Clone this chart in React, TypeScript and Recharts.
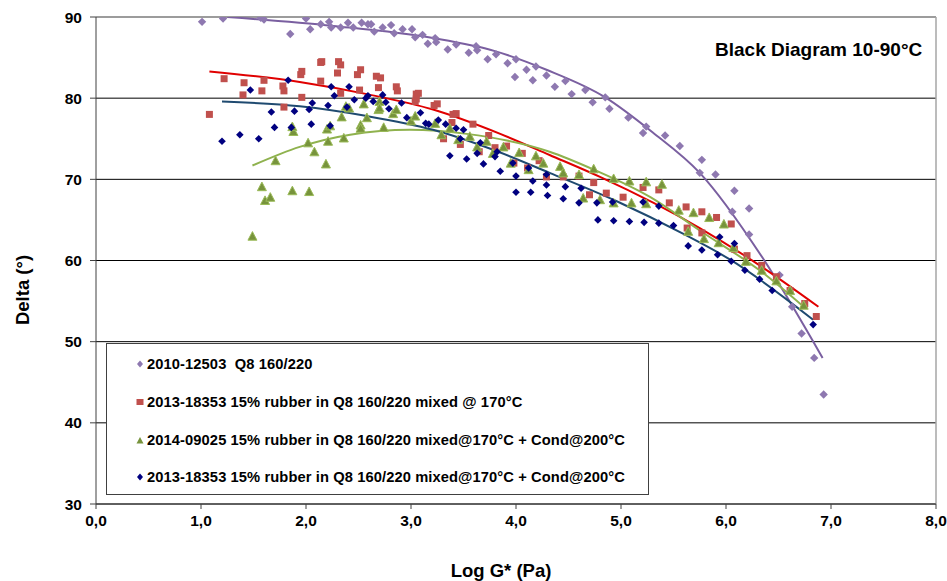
import React from 'react';
import { ComposedChart, Scatter, Line, XAxis, YAxis, CartesianGrid, ReferenceLine } from 'recharts';

type P = [number, number];

const xTicks = [0, 1, 2, 3, 4, 5, 6, 7, 8];
const yTicks = [30, 40, 50, 60, 70, 80, 90];

const chartTitle = 'Black Diagram 10-90°C';
const xTitle = 'Log G* (Pa)';
const yTitle = 'Delta (°)';

const seriesNames = [
  '2010-12503  Q8 160/220',
  '2013-18353 15% rubber in Q8 160/220 mixed @ 170°C',
  '2014-09025 15% rubber in Q8 160/220 mixed@170°C + Cond@200°C',
  '2013-18353 15% rubber in Q8 160/220 mixed@170°C + Cond@200°C',
];

const q8Points: P[] = [
  [1.01, 89.4], [1.21, 89.8], [1.57, 89.9], [1.6, 89.7], [1.85, 87.9], [2.0, 89.8], [2.04, 88.5],
  [2.14, 89.1], [2.22, 89.4], [2.24, 88.7], [2.33, 88.7], [2.4, 89.3], [2.45, 88.7], [2.53, 89.3],
  [2.59, 89.1], [2.62, 89.1], [2.65, 88.2], [2.73, 88.7], [2.81, 89.0], [2.84, 88.0], [2.92, 88.5],
  [3.01, 88.5], [3.04, 87.5], [3.11, 87.8], [3.16, 86.7], [3.23, 87.4], [3.24, 86.9], [3.35, 86.0],
  [3.43, 86.6], [3.55, 85.6], [3.62, 86.4], [3.63, 85.9], [3.73, 84.8], [3.81, 85.4], [3.92, 84.3],
  [3.99, 82.6], [4.0, 84.8], [4.1, 83.5], [4.16, 82.2], [4.19, 83.9], [4.29, 82.8], [4.37, 81.4],
  [4.47, 82.1], [4.53, 80.5], [4.66, 81.0], [4.73, 79.5], [4.85, 80.1], [4.89, 78.7], [5.07, 77.6],
  [5.21, 75.7], [5.24, 76.5], [5.42, 75.4], [5.56, 74.1], [5.77, 72.4], [5.75, 70.8], [5.9, 70.6],
  [6.08, 68.6], [6.22, 66.4], [6.06, 66.0], [6.22, 63.2], [6.51, 58.2], [6.63, 54.3], [6.72, 51.0],
  [6.84, 48.0], [6.93, 43.5],
];

const rubberPoints: P[] = [
  [1.08, 78.0], [1.22, 82.4], [1.41, 81.9], [1.4, 80.4], [1.58, 80.9], [1.6, 82.2], [1.78, 81.5],
  [1.79, 80.9], [1.79, 78.9], [1.96, 80.1], [1.95, 82.9], [1.96, 83.3], [2.14, 82.1], [2.15, 84.5],
  [2.14, 84.4], [2.31, 84.5], [2.33, 84.1], [2.3, 83.1], [2.33, 80.6], [2.49, 82.9], [2.52, 83.5],
  [2.51, 81.0], [2.67, 82.7], [2.71, 82.5], [2.69, 81.3], [2.86, 81.4], [2.87, 80.9], [3.05, 80.5],
  [3.07, 80.6], [3.04, 79.6], [3.05, 79.9], [3.22, 79.1], [3.25, 79.3], [3.31, 75.0], [3.4, 78.0],
  [3.43, 78.1], [3.39, 77.0], [3.47, 74.3], [3.59, 76.8], [3.65, 73.4], [3.74, 75.4], [3.8, 73.9],
  [3.91, 74.1], [3.98, 72.0], [4.06, 73.2], [4.11, 71.4], [4.22, 72.3], [4.29, 70.3], [4.45, 70.3],
  [4.6, 70.4], [4.74, 69.6], [4.7, 68.1], [4.86, 68.3], [5.02, 67.8], [5.21, 69.0], [5.36, 68.7],
  [5.46, 67.1], [5.62, 66.6], [5.77, 66.0], [5.91, 65.3], [6.05, 64.5], [5.63, 64.0], [5.77, 63.4],
  [6.08, 61.4], [6.2, 60.6], [6.34, 59.4], [6.48, 58.0], [6.61, 56.3], [6.75, 54.7], [6.86, 53.1],
];

const condPoints: P[] = [
  [1.49, 63.0], [1.58, 69.1], [1.61, 67.4], [1.66, 67.8], [1.71, 72.3], [1.87, 68.6], [1.88, 75.9],
  [1.87, 76.5], [2.02, 74.5], [2.03, 68.5], [2.08, 73.4], [2.19, 71.9], [2.21, 74.7], [2.2, 76.2],
  [2.23, 76.6], [2.34, 77.7], [2.36, 75.1], [2.38, 79.0], [2.41, 78.8], [2.52, 76.7], [2.52, 76.3],
  [2.55, 79.3], [2.58, 77.6], [2.69, 78.6], [2.7, 79.6], [2.7, 78.8], [2.74, 76.4], [2.83, 78.1],
  [2.86, 78.6], [3.0, 77.2], [3.04, 77.8], [3.23, 76.9], [3.37, 76.3], [3.29, 75.5], [3.45, 74.9],
  [3.56, 75.3], [3.63, 74.0], [3.72, 74.7], [3.78, 73.2], [3.88, 74.0], [3.95, 72.0], [4.03, 73.3],
  [4.12, 71.2], [4.19, 72.9], [4.26, 72.0], [4.42, 71.6], [4.45, 70.8], [4.6, 70.6], [4.74, 71.3],
  [4.8, 67.5], [4.64, 67.7], [4.93, 67.1], [4.93, 70.1], [5.08, 69.8], [5.1, 67.1], [5.24, 69.7],
  [5.24, 67.0], [5.39, 69.4], [5.55, 66.2], [5.69, 65.9], [5.84, 65.3], [5.98, 64.5], [5.64, 63.6],
  [5.79, 62.7], [5.93, 62.2], [6.07, 61.6], [6.19, 59.9], [6.34, 58.8], [6.48, 57.5], [6.61, 56.3],
  [6.74, 54.5],
];

const cond2Points: P[] = [
  [1.2, 74.7], [1.37, 75.5], [1.47, 81.0], [1.55, 75.0], [1.67, 78.3], [1.7, 76.4], [1.83, 82.2],
  [1.86, 76.4], [1.89, 78.4], [2.03, 78.6], [2.05, 76.8], [2.06, 79.4], [2.21, 79.1], [2.23, 76.6],
  [2.24, 81.4], [2.27, 80.3], [2.39, 78.9], [2.41, 81.4], [2.46, 79.8], [2.57, 80.0], [2.59, 80.3],
  [2.64, 79.6], [2.73, 80.4], [2.76, 79.5], [2.79, 78.7], [2.91, 79.4], [2.96, 77.6], [3.09, 78.2],
  [3.14, 76.9], [3.17, 76.8], [3.26, 77.3], [3.33, 76.8], [3.37, 72.9], [3.43, 76.3], [3.47, 75.0],
  [3.5, 76.1], [3.53, 72.5], [3.63, 73.2], [3.66, 74.5], [3.69, 71.9], [3.8, 72.8], [3.82, 73.4],
  [3.85, 71.0], [3.97, 72.0], [4.0, 70.4], [4.0, 68.4], [4.12, 71.4], [4.14, 68.4], [4.16, 69.8],
  [4.29, 70.6], [4.3, 68.0], [4.29, 69.3], [4.45, 67.6], [4.47, 69.1], [4.6, 67.1], [4.62, 68.9],
  [4.77, 67.1], [4.92, 67.2], [5.21, 67.2], [5.36, 66.7], [4.78, 65.0], [4.93, 64.9], [5.08, 64.8],
  [5.22, 64.7], [5.36, 64.6], [5.5, 64.3], [5.64, 61.8], [5.77, 61.3], [5.94, 62.9], [6.08, 62.1],
  [5.92, 60.7], [6.05, 59.9], [6.18, 58.8], [6.32, 57.7], [6.44, 56.3], [6.83, 52.1],
];

const q8Trend: P[] = [
  [1.25, 90.0], [2.26, 88.9], [3.21, 87.4], [3.8, 85.8], [4.29, 83.5], [4.85, 80.1], [5.3, 75.8],
  [5.75, 70.8], [6.35, 60.3], [6.92, 48.0],
];
const rubberTrend: P[] = [
  [1.08, 83.3], [1.94, 82.0], [2.58, 80.5], [3.21, 78.6], [3.85, 75.6], [4.32, 73.0], [4.8, 70.3],
  [5.75, 64.0], [6.32, 59.4], [6.88, 54.3],
];
const condTrend: P[] = [
  [1.49, 71.7], [1.94, 74.0], [2.42, 75.5], [2.99, 76.1], [3.53, 75.6], [4.32, 73.4], [4.74, 71.2],
  [5.28, 67.8], [5.75, 63.7], [6.36, 58.4], [6.74, 54.3],
];
const cond2Trend: P[] = [
  [1.2, 79.6], [1.94, 79.0], [2.58, 77.8], [3.21, 76.1], [3.85, 73.3], [4.32, 70.8], [4.96, 67.3],
  [5.59, 63.3], [6.04, 60.1], [6.83, 52.7],
];

const toData = (pts: P[]) => pts.map(([x, y]) => ({ x, y }));

const COLORS = {
  q8: '#8E78B0',
  q8Line: '#7A5FA0',
  rubber: '#C0504D',
  rubberLine: '#E00000',
  cond: '#77933C',
  condEdge: '#9BBB59',
  condLine: '#8FB24E',
  cond2: '#000080',
  cond2Line: '#1F4A70',
};

const diamond = (fill: string, r: number) => (props: any) => {
  const { cx, cy } = props;
  if (cx == null || cy == null) return <g />;
  return <path d={`M${cx},${cy - r}L${cx + r},${cy}L${cx},${cy + r}L${cx - r},${cy}Z`} fill={fill} />;
};
const square = (fill: string, s: number) => (props: any) => {
  const { cx, cy } = props;
  if (cx == null || cy == null) return <g />;
  return <rect x={cx - s / 2} y={cy - s / 2} width={s} height={s} fill={fill} />;
};
const triangle = (fill: string, edge: string, s: number) => (props: any) => {
  const { cx, cy } = props;
  if (cx == null || cy == null) return <g />;
  const h = s * 0.9;
  return (
    <path
      d={`M${cx},${cy - h / 2 - 0.5}L${cx + s / 2},${cy + h / 2}L${cx - s / 2},${cy + h / 2}Z`}
      fill={fill}
      stroke={edge}
      strokeWidth={1}
    />
  );
};

const fmt = (v: number) => v.toFixed(1).replace('.', ',');

const FONT = '"Liberation Sans", Arial, sans-serif';

const LegendMarker = ({ i }: { i: number }) => {
  if (i === 0) return <svg width={8} height={8}><path d="M4,0.5L7,4L4,7.5L1,4Z" fill={COLORS.q8} /></svg>;
  if (i === 1) return <svg width={8} height={8}><rect x={0.5} y={1} width={7} height={6} fill={COLORS.rubber} /></svg>;
  if (i === 2) return <svg width={8} height={8}><path d="M4,1L7.5,7.5L0.5,7.5Z" fill={COLORS.cond} /></svg>;
  return <svg width={8} height={8}><path d="M4,0.5L7,4L4,7.5L1,4Z" fill={COLORS.cond2} /></svg>;
};

export default function App() {
  const tickStyle = { fontSize: 15.5, fontWeight: 'bold' as const, fill: '#000', fontFamily: FONT };
  return (
    <div style={{ position: 'absolute', left: 0, top: 0, width: 947, height: 581, background: '#fff', fontFamily: FONT }}>
      <ComposedChart width={947} height={581} margin={{ top: 17, right: 11, bottom: 0, left: 0 }}>
        <CartesianGrid vertical={false} stroke="#000" strokeWidth={1} />
        <XAxis
          dataKey="x"
          type="number"
          domain={[0, 8]}
          ticks={xTicks}
          tickFormatter={fmt}
          height={77}
          tickSize={5}
          tickMargin={6}
          stroke="#404040"
          tick={tickStyle}
          allowDataOverflow
          label={{
            content: () => (
              <text x={501} y={570} textAnchor="middle" dominantBaseline="central" fontSize={18.5} fontWeight="bold" fill="#000" fontFamily={FONT}>
                {xTitle}
              </text>
            ),
          }}
        />
        <YAxis
          dataKey="y"
          type="number"
          domain={[30, 90]}
          ticks={yTicks}
          width={96}
          tickSize={6}
          tickMargin={8}
          stroke="#404040"
          tick={tickStyle}
          allowDataOverflow
          label={{
            content: () => (
              <text x={22} y={290} transform="rotate(-90, 22, 290)" textAnchor="middle" dominantBaseline="central" fontSize={18.5} fontWeight="bold" fill="#000" fontFamily={FONT}>
                {yTitle}
              </text>
            ),
          }}
        />
        <ReferenceLine y={90} stroke="#A6A6A6" strokeWidth={1.5} />
        <ReferenceLine x={8} stroke="#A6A6A6" strokeWidth={1.5} />
        <Scatter name={seriesNames[0]} data={toData(q8Points)} shape={diamond(COLORS.q8, 4.2)} isAnimationActive={false} />
        <Scatter name={seriesNames[1]} data={toData(rubberPoints)} shape={square(COLORS.rubber, 7)} isAnimationActive={false} />
        <Scatter name={seriesNames[2]} data={toData(condPoints)} shape={triangle(COLORS.cond, COLORS.condEdge, 9)} isAnimationActive={false} />
        <Scatter name={seriesNames[3]} data={toData(cond2Points)} shape={diamond(COLORS.cond2, 3.8)} isAnimationActive={false} />
        <Line data={toData(q8Trend)} dataKey="y" type="monotone" stroke={COLORS.q8Line} strokeWidth={2} dot={false} activeDot={false} isAnimationActive={false} />
        <Line data={toData(rubberTrend)} dataKey="y" type="monotone" stroke={COLORS.rubberLine} strokeWidth={2} dot={false} activeDot={false} isAnimationActive={false} />
        <Line data={toData(condTrend)} dataKey="y" type="monotone" stroke={COLORS.condLine} strokeWidth={2} dot={false} activeDot={false} isAnimationActive={false} />
        <Line data={toData(cond2Trend)} dataKey="y" type="monotone" stroke={COLORS.cond2Line} strokeWidth={2} dot={false} activeDot={false} isAnimationActive={false} />
      </ComposedChart>
      <div
        style={{
          position: 'absolute',
          left: 715,
          top: 39,
          fontSize: 19,
          fontWeight: 'bold',
          color: '#000',
          lineHeight: '22px',
          whiteSpace: 'nowrap',
        }}
      >
        {chartTitle}
      </div>
      <div
        style={{
          position: 'absolute',
          left: 106,
          top: 343,
          width: 541,
          height: 150,
          border: '1px solid #404040',
          background: '#fff',
        }}
      >
        {seriesNames.map((n, i) => (
          <div
            key={n}
            style={{
              position: 'absolute',
              left: 29,
              top: 10 + i * 37.8,
              height: 20,
              display: 'flex',
              alignItems: 'center',
              whiteSpace: 'nowrap',
              fontSize: 14.7,
              letterSpacing: 0.1,
              fontWeight: 'bold',
              color: '#000',
            }}
          >
            <LegendMarker i={i} />
            <span style={{ marginLeft: 3, whiteSpace: 'pre' }}>{n}</span>
          </div>
        ))}
      </div>
    </div>
  );
}
